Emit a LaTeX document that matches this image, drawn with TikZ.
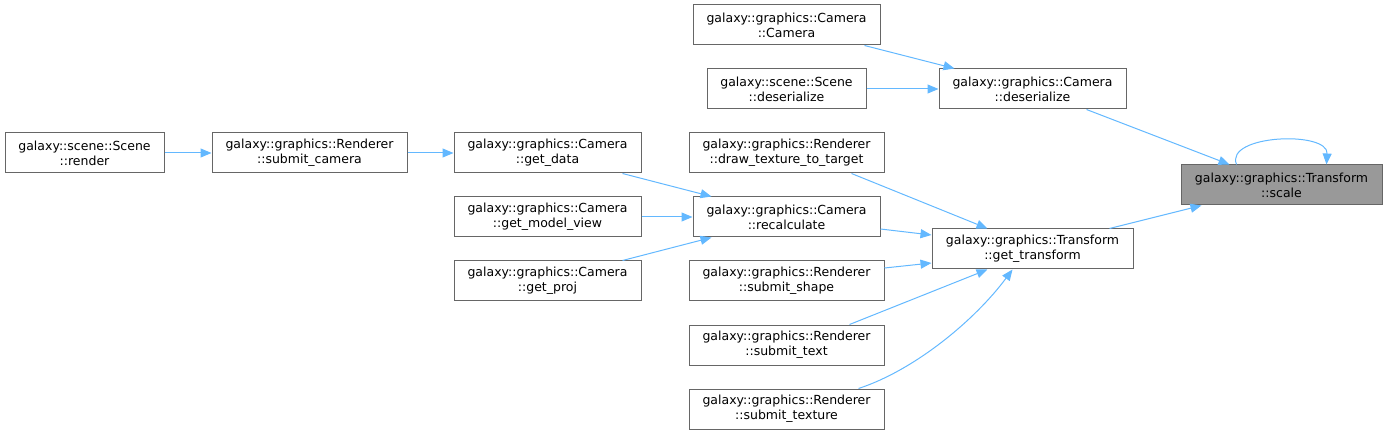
\documentclass[tikz,border=0pt]{standalone}
\usepackage{fontspec}
\setmainfont{DejaVu Sans}
\usetikzlibrary{arrows.meta}
\definecolor{edgec}{HTML}{63B8FF}
\definecolor{borderc}{HTML}{666666}
\definecolor{hlfill}{HTML}{999999}
\tikzset{
  box/.style={draw=borderc, line width=1pt, fill=white, inner sep=0pt,
    minimum height=40pt, align=center,
    font=\fontsize{12.5}{15}\selectfont},
  hl/.style={box, fill=hlfill},
  edge/.style={draw=edgec, line width=1pt, -{Triangle[length=11pt,width=9pt]}},
}
\begin{document}
\begin{tikzpicture}[x=1pt,y=-1pt]
\useasboundingbox (0,0) rectangle (1388,435);
% nodes
\node[hl, minimum width=201pt] (scale) at (1281.5,185) {galaxy::graphics::Transform\\::scale};
\node[box, minimum width=187pt] (camcam) at (786.5,25) {galaxy::graphics::Camera\\::Camera};
\node[box, minimum width=159pt] (scdes) at (786.5,89) {galaxy::scene::Scene\\::deserialize};
\node[box, minimum width=187pt] (camdes) at (1032.5,89) {galaxy::graphics::Camera\\::deserialize};
\node[box, minimum width=159pt] (render) at (84.5,153) {galaxy::scene::Scene\\::render};
\node[box, minimum width=195pt] (subcam) at (309.5,153) {galaxy::graphics::Renderer\\::submit\_camera};
\node[box, minimum width=187pt] (getdata) at (547.5,153) {galaxy::graphics::Camera\\::get\_data};
\node[box, minimum width=195pt] (drawtex) at (786.5,153) {galaxy::graphics::Renderer\\::draw\_texture\_to\_target};
\node[box, minimum width=187pt] (getmv) at (547.5,217) {galaxy::graphics::Camera\\::get\_model\_view};
\node[box, minimum width=187pt] (recalc) at (786.5,217) {galaxy::graphics::Camera\\::recalculate};
\node[box, minimum width=201pt] (gettr) at (1032.5,249) {galaxy::graphics::Transform\\::get\_transform};
\node[box, minimum width=187pt] (getproj) at (547.5,281) {galaxy::graphics::Camera\\::get\_proj};
\node[box, minimum width=195pt] (subshape) at (786.5,281) {galaxy::graphics::Renderer\\::submit\_shape};
\node[box, minimum width=195pt] (subtext) at (786.5,345) {galaxy::graphics::Renderer\\::submit\_text};
\node[box, minimum width=195pt] (subtex) at (786.5,409) {galaxy::graphics::Renderer\\::submit\_texture};
% edges
\draw[edge] ([xshift=148pt]camdes.south west) -- ([xshift=49pt]scale.north west);
\draw[edge] ([xshift=178pt]gettr.north west) -- ([xshift=21pt]scale.south west);
\draw[edge] ([xshift=56pt]scale.north west) .. controls +(-12,-30) and +(2,-34) .. ([xshift=146pt]scale.north west);
\draw[edge] ([xshift=172pt]camcam.south west) -- ([xshift=16pt]camdes.north west);
\draw[edge] (scdes.east) -- (camdes.west);
\draw[edge] (render.east) -- (subcam.west);
\draw[edge] (subcam.east) -- (getdata.west);
\draw[edge] ([xshift=169pt]getdata.south west) -- ([xshift=19pt]recalc.north west);
\draw[edge] (getmv.east) -- (recalc.west);
\draw[edge] ([xshift=169pt]getproj.north west) -- ([xshift=19pt]recalc.south west);
\draw[edge] ([xshift=163pt]drawtex.south west) -- ([xshift=56pt]gettr.north west);
\draw[edge] ([yshift=-12pt]recalc.east) -- ([yshift=14pt]gettr.west);
\draw[edge] ([yshift=13pt]subshape.east) -- ([yshift=-14pt]gettr.west);
\draw[edge] ([xshift=161pt]subtext.north west) -- ([xshift=56pt]gettr.south west);
\draw[edge] ([xshift=170pt]subtex.north west) .. controls (915,370) and (975,320) .. ([xshift=81pt]gettr.south west);
\end{tikzpicture}
\end{document}
